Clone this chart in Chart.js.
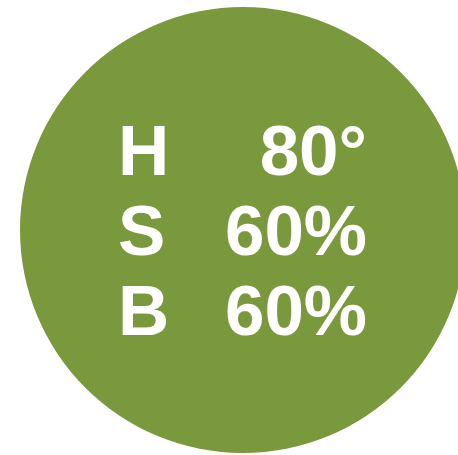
<!DOCTYPE html>
<html>
<head>
<meta charset="utf-8">
<script src="https://cdn.jsdelivr.net/npm/chart.js@4"></script>
<style>
  html, body { margin: 0; padding: 0; overflow: hidden; background: #fff; }
  #wrap { position: absolute; left: 20px; top: 7px; width: 446px; height: 446px; }
</style>
</head>
<body>
<div id="wrap"><canvas id="hsbChart"></canvas></div>
<script>
const channels = ['H', 'S', 'B'];
const channelValues = [80, 60, 60];
const channelUnits = ['°', '%', '%'];
const slices = [100];

// HSB -> rgb for the swatch colour
function hsbToRgb(h, s, b) {
    s /= 100; b /= 100;
    const k = n => (n + h / 60) % 6;
    const f = n => b * (1 - s * Math.max(0, Math.min(k(n), 4 - k(n), 1)));
    return `rgb(${Math.round(f(5) * 255)}, ${Math.round(f(3) * 255)}, ${Math.round(f(1) * 255)})`;
}

const swatch = hsbToRgb(...channelValues);

const labelPlugin = {
    id: 'hsbLabels',
    afterDraw(chart) {
        const arc = chart.getDatasetMeta(0).data[0];
        const { x, y } = arc.getProps(['x', 'y'], true);
        const c = chart.ctx;
        c.save();
        c.fillStyle = '#fff';
        c.font = 'bold 71px "Liberation Sans", Arial, sans-serif';
        c.textBaseline = 'alphabetic';
        channels.forEach((ch, i) => {
            const by = y - 55 + i * 80;
            c.textAlign = 'left';
            c.fillText(ch, x - 125, by);
            c.textAlign = 'right';
            c.fillText(channelValues[i] + channelUnits[i], x + 124, by);
        });
        c.restore();
    }
};

new Chart(document.getElementById('hsbChart'), {
    type: 'pie',
    data: {
        labels: ['HSB'],
        datasets: [{
            data: slices,
            backgroundColor: [swatch],
            borderWidth: 0
        }]
    },
    options: {
        responsive: true,
        maintainAspectRatio: false,
        animation: false,
        layout: { padding: 0 },
        plugins: {
            legend: { display: false },
            tooltip: { enabled: false }
        }
    },
    plugins: [labelPlugin]
});
</script>
</body>
</html>
